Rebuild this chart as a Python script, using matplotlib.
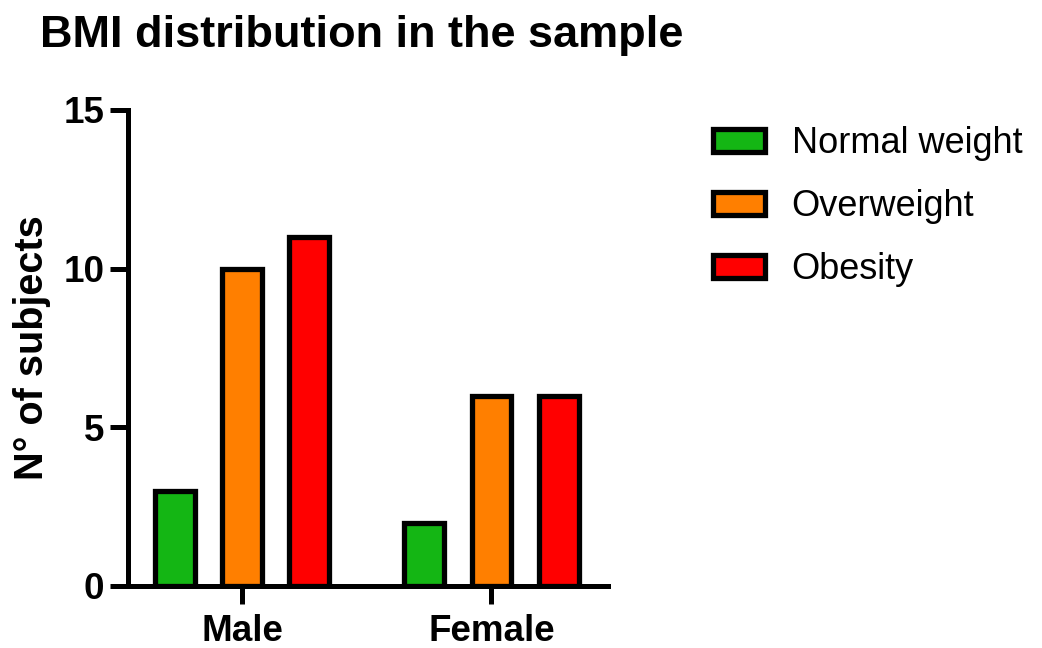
import matplotlib
matplotlib.use('Agg')
import matplotlib.pyplot as plt
import numpy as np

plt.rcParams['font.family'] = ['Liberation Sans', 'DejaVu Sans']

groups = ['Male', 'Female']
categories = ['Normal weight', 'Overweight', 'Obesity']
values = {
    'Normal weight': [3, 2],
    'Overweight': [10, 6],
    'Obesity': [11, 6],
}
colors = ['#14b614', '#ff7f00', '#ff0000']

fig = plt.figure(figsize=(10.42, 6.48), dpi=100)
ax = fig.add_axes([0.1228, 0.0957, 0.4607, 0.7346])

x = np.arange(len(groups))
offset = 0.27
width = 0.16
for i, cat in enumerate(categories):
    ax.bar(x + (i - 1) * offset, values[cat], width, color=colors[i],
           edgecolor='black', linewidth=3.8, label=cat)

ax.set_xlim(-0.457, 1.467)
ax.set_ylim(0, 15)
ax.set_yticks([0, 5, 10, 15])
ax.set_xticks(x)
ax.set_xticklabels(groups)

for side in ['top', 'right']:
    ax.spines[side].set_visible(False)
for side in ['left', 'bottom']:
    ax.spines[side].set_linewidth(3.6)
    ax.spines[side].set_capstyle('projecting')

ax.tick_params(axis='both', direction='out', length=13, width=3.6,
               labelsize=26.5)
ax.tick_params(axis='y', pad=4)
ax.tick_params(axis='x', pad=7)
for lab in ax.get_xticklabels() + ax.get_yticklabels():
    lab.set_fontweight('bold')

ax.set_ylabel('N° of subjects', fontsize=28.5, fontweight='bold', labelpad=9)

fig.text(0.038, 0.945, 'BMI distribution in the sample', fontsize=32.5,
         fontweight='bold', va='center', ha='left')

leg = ax.legend(loc='upper left', bbox_to_anchor=(0.67, 0.828),
                bbox_transform=fig.transFigure, frameon=False, fontsize=26,
                handlelength=1.44, handleheight=0.6, handletextpad=0.75,
                labelspacing=0.78, borderaxespad=0)

plt.savefig('out.png', dpi=100)
